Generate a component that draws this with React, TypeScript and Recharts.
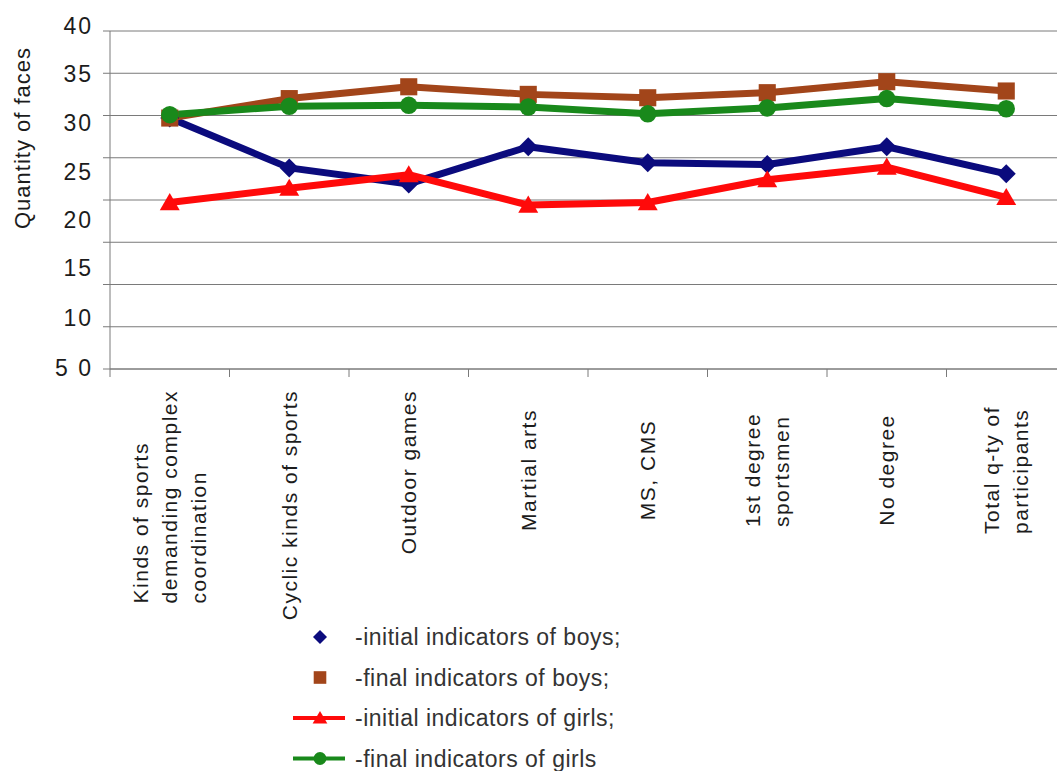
import React from "react";
import { ComposedChart, Line, XAxis, YAxis, CartesianGrid } from "recharts";

// values
const categories = [
  "Kinds of sports\ndemanding complex\ncoordination",
  "Cyclic kinds of sports",
  "Outdoor games",
  "Martial arts",
  "MS, CMS",
  "1st degree\nsportsmen",
  "No degree",
  "Total q-ty of\nparticipants",
];
const boysInitial = [29.7, 23.8, 21.9, 26.3, 24.4, 24.2, 26.3, 23.1];
const boysFinal = [29.7, 32.0, 33.4, 32.5, 32.1, 32.7, 34.0, 32.9];
const girlsInitial = [19.7, 21.4, 23.0, 19.4, 19.7, 22.4, 23.9, 20.3];
const girlsFinal = [30.1, 31.1, 31.2, 31.0, 30.2, 30.9, 32.0, 30.8];

const yTicks = [0, 5, 10, 15, 20, 25, 30, 35, 40];
const yTickLabels = ["5 0", "", "10", "15", "20", "25", "30", "35", "40"];

const legendLabels = [
  "-initial indicators of boys;",
  "-final indicators of boys;",
  "-initial indicators of girls;",
  "-final indicators of girls",
];

type Shape = "diamond" | "square" | "triangle" | "circle";

const series: { key: string; color: string; shape: Shape; legendLine: boolean }[] = [
  { key: "boysInitial", color: "#0b0b7d", shape: "diamond", legendLine: false },
  { key: "boysFinal", color: "#a2451a", shape: "square", legendLine: false },
  { key: "girlsInitial", color: "#ff0a0a", shape: "triangle", legendLine: true },
  { key: "girlsFinal", color: "#19891b", shape: "circle", legendLine: true },
];

const data = categories.map((name, i) => ({
  name,
  boysInitial: boysInitial[i],
  boysFinal: boysFinal[i],
  girlsInitial: girlsInitial[i],
  girlsFinal: girlsFinal[i],
}));

const FONT = "Arial, 'Liberation Sans', Helvetica, sans-serif";
const TEXT = "#1c1c1c";
const AXIS = "#7a7a7a";
const CHART_W = 1066;
const CHART_H = 771;
const Y_AXIS_W = 110;

let ctx: CanvasRenderingContext2D | null = null;
function textWidth(s: string, size: number, spacing: number) {
  if (!ctx) ctx = document.createElement("canvas").getContext("2d");
  if (!ctx) return s.length * size * 0.5;
  ctx.font = `${size}px ${FONT}`;
  return ctx.measureText(s).width + spacing * s.length;
}

function Marker({ cx, cy, shape, color, s }: { cx: number; cy: number; shape: Shape; color: string; s: number }) {
  if (cx == null || cy == null) return null;
  if (shape === "diamond")
    return <polygon points={`${cx},${cy - s} ${cx + s},${cy} ${cx},${cy + s} ${cx - s},${cy}`} fill={color} />;
  if (shape === "square")
    return <rect x={cx - s * 0.9} y={cy - s * 0.9} width={s * 1.8} height={s * 1.8} fill={color} />;
  if (shape === "triangle")
    return <polygon points={`${cx},${cy - s} ${cx + s * 1.05},${cy + s * 0.8} ${cx - s * 1.05},${cy + s * 0.8}`} fill={color} />;
  return <circle cx={cx} cy={cy} r={s * 0.92} fill={color} />;
}

const yShift: Record<number, number> = { 40: -5, 35: 1, 30: 7, 25: 14, 20: 20, 15: 26, 10: 33, 5: 0, 0: -1 };

function YTick(props: any) {
  const { x, y, payload } = props;
  const v = payload.value as number;
  const label = yTickLabels[yTicks.indexOf(v)];
  if (!label) return null;
  return (
    <text x={x} y={y + (yShift[v] || 0)} textAnchor="end" dominantBaseline="central"
      fontSize={23} letterSpacing={2} fill={TEXT} fontFamily={FONT}>
      {label}
    </text>
  );
}

function XTick(props: any) {
  const { x, y, payload, index } = props;
  const lines = String(payload.value).split("\n");
  const fs = 21;
  const sp = 1.5;
  const w = Math.max(...lines.map((l) => textWidth(l, fs, sp)));
  const cy = Math.max(y + 21 + w / 2, 470);
  const half = (CHART_W - Y_AXIS_W) / categories.length / 2;
  return (
    <g>
      {index === 0 && <line x1={x - half} x2={x - half} y1={y} y2={y + 8} stroke={AXIS} />}
      <line x1={x + half} x2={x + half} y1={y} y2={y + 8} stroke={AXIS} />
      <g transform={`translate(${x},${cy}) rotate(-90)`}>
        {lines.map((l, i) => (
          <text key={i} x={-w / 2} y={(i - (lines.length - 1) / 2) * 29} textAnchor="start"
            dominantBaseline="central" fontSize={fs} letterSpacing={sp} fill={TEXT} fontFamily={FONT}>
            {l}
          </text>
        ))}
      </g>
    </g>
  );
}

function YTitle() {
  return (
    <text x={22} y={138} transform="rotate(-90 22 138)" textAnchor="middle" dominantBaseline="central"
      fontSize={22} letterSpacing={1} fill={TEXT} fontFamily={FONT}>
      Quantity of faces
    </text>
  );
}

export default function App() {
  return (
    <div style={{ position: "absolute", left: 0, top: 0, width: 1057, height: 771, overflow: "hidden", background: "#fff" }}>
      <ComposedChart width={CHART_W} height={CHART_H} data={data} margin={{ top: 31, right: 0, bottom: 0, left: 0 }}>
        <CartesianGrid vertical={false} stroke={AXIS} strokeWidth={1} />
        <XAxis dataKey="name" type="category" scale="band" height={402} interval={0}
          axisLine={{ stroke: AXIS }} tickLine={false} tickSize={0} tickMargin={0} tick={<XTick />} />
        <YAxis type="number" domain={[0, 40]} ticks={yTicks} width={Y_AXIS_W} interval={0}
          axisLine={{ stroke: AXIS }} tickLine={{ stroke: AXIS }} tickSize={7} tickMargin={10}
          tick={<YTick />} label={<YTitle />} />
        {series.map((s) => (
          <Line key={s.key} dataKey={s.key} stroke={s.color} strokeWidth={7} strokeLinejoin="round"
            isAnimationActive={false}
            dot={(p: any) => <Marker key={`${s.key}-${p.index}`} cx={p.cx} cy={p.cy} shape={s.shape} color={s.color} s={9.5} />}
            activeDot={false} />
        ))}
      </ComposedChart>
      <svg width={1057} height={771} style={{ position: "absolute", left: 0, top: 0, pointerEvents: "none" }}>
        {series.map((s, i) => {
          const cy = 637 + i * 40.5;
          return (
            <g key={s.key}>
              {s.legendLine && <line x1={293} x2={345} y1={cy} y2={cy} stroke={s.color} strokeWidth={4} />}
              <Marker cx={320} cy={cy} shape={s.shape} color={s.color} s={7} />
              <text x={355} y={cy} dominantBaseline="central" fontSize={23} letterSpacing={0.5} fill="#333" fontFamily={FONT}>
                {legendLabels[i]}
              </text>
            </g>
          );
        })}
      </svg>
    </div>
  );
}
